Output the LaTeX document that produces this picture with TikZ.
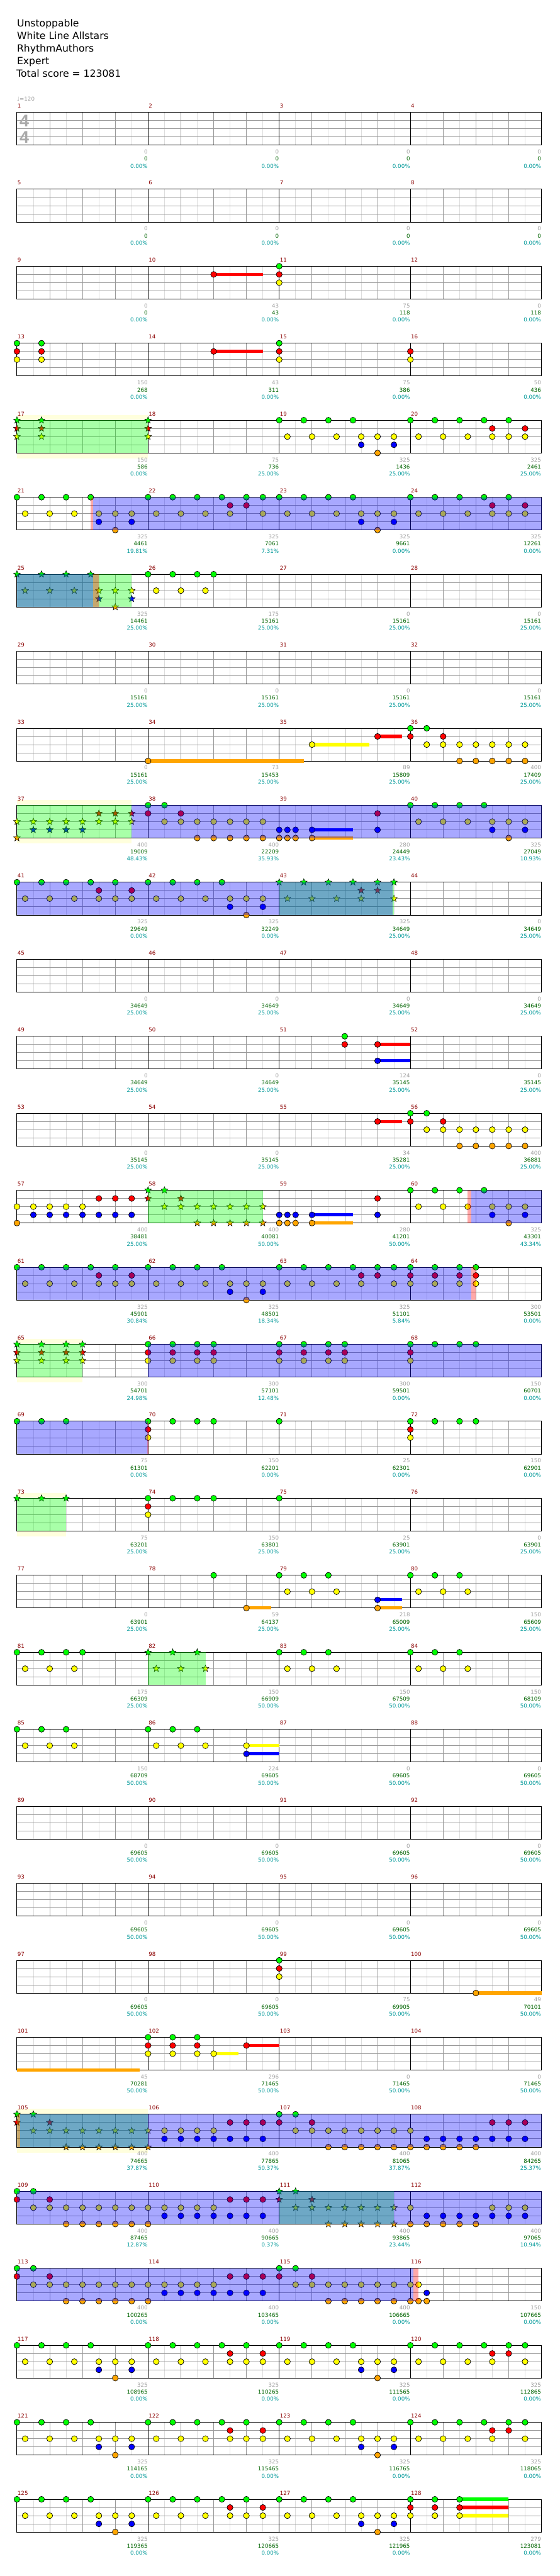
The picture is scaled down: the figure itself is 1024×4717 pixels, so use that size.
\documentclass[tikz,border=0pt]{standalone}
\usepackage{fontspec}
\setmainfont{DejaVu Sans}
\newfontfamily\tsfont{Liberation Sans}
\usetikzlibrary{shapes.geometric}
\definecolor{cG}{RGB}{0,255,0}
\definecolor{cR}{RGB}{255,0,0}
\definecolor{cY}{RGB}{255,255,0}
\definecolor{cB}{RGB}{0,0,255}
\definecolor{cO}{RGB}{255,165,0}
\definecolor{lgr}{RGB}{221,221,221}
\definecolor{dgr}{RGB}{153,153,153}
\definecolor{mnum}{RGB}{139,0,0}
\definecolor{sgray}{RGB}{160,160,160}
\definecolor{sgreen}{RGB}{0,100,0}
\definecolor{steal}{RGB}{0,153,153}
\definecolor{yband}{RGB}{255,255,221}
\definecolor{tsig}{RGB}{170,170,170}
\newcommand\smallf{\fontsize{10}{12}\selectfont}
\newcommand\titlef{\fontsize{18}{22}\selectfont}
\def\LG{0}\def\LR{1}\def\LY{2}\def\LB{3}\def\LO{4}
\newcommand\setxy[3]{\pgfmathsetmacro\nx{31+240*mod(#1-1,4)+15*(#2)}\pgfmathsetmacro\ny{205.5+141*floor((#1-1)/4)+15*(#3)}}
\newcommand\NT[3]{\setxy{#1}{#2}{\csname L#3\endcsname}\filldraw[notec,fill=c#3] (\nx,\ny) circle (5.4pt);}
\newcommand\ST[3]{\setxy{#1}{#2}{\csname L#3\endcsname}\node[starn,fill=c#3] at (\nx,\ny) {};}
\newcommand\SU[4]{\setxy{#1}{#2}{\csname L#3\endcsname}\pgfmathsetmacro\ex{\nx+15*(#4)}\fill[c#3] (\nx,\ny-3) rectangle (\ex,\ny+3);}
\newcommand\NL[4]{\foreach \pp in {#4} {#1{#2}{\pp}{#3}}}
\newcommand\GRY[3]{\NL#1{#2}{G}{#3}\NL#1{#2}{R}{#3}\NL#1{#2}{Y}{#3}}
\newcommand\PA[2]{\NL#1{#2}{G}{0,3,6,9}\NL#1{#2}{Y}{1,4,7,10,12,14}\NL#1{#2}{B}{10,14}\NL#1{#2}{O}{12}}
\newcommand\PB[2]{\NL#1{#2}{G}{0,3,6,9,12}\NL#1{#2}{R}{10,14}\NL#1{#2}{Y}{1,4,7,10,12,14}}
\newcommand\PC[2]{\NL#1{#2}{G}{0,3,6,9,12,14}\NL#1{#2}{R}{10,12}\NL#1{#2}{Y}{1,4,7,10,14}}
\newcommand\PD[2]{\NL#1{#2}{G}{0,2}\NL#1{#2}{R}{0,4}\NL#1{#2}{Y}{2,4,6,8,10,12,14}\NL#1{#2}{O}{6,8,10,12,14}}
\newcommand\PE[2]{\NL#1{#2}{Y}{0,2,4,6,8}\NL#1{#2}{B}{2,4,6,8,10,12,14}\NL#1{#2}{R}{10,12,14}\NL#1{#2}{O}{0}}
\newcommand\PH[2]{\NL#1{#2}{B}{0,1,2,4,12}\NL#1{#2}{O}{0,1,2,4}\NL#1{#2}{R}{12}}
\newcommand\PJ[2]{\NL#1{#2}{G}{0,3,6}\NL#1{#2}{Y}{1,4,7}}
\newcommand\OV[4]{\pgfmathsetmacro\TT{205.5+141*(#2-1)}\fill[#1] (#3,\TT) rectangle (#4,\TT+60);}
\newcommand\YB[3]{\pgfmathsetmacro\TT{205.5+141*(#1-1)}\fill[yband] (#2,\TT-10) rectangle (#3,\TT+70);}
\def\scorelist{1/0/0/0.00,2/0/0/0.00,3/0/0/0.00,4/0/0/0.00,5/0/0/0.00,6/0/0/0.00,7/0/0/0.00,8/0/0/0.00,
9/0/0/0.00,10/43/43/0.00,11/75/118/0.00,12/0/118/0.00,
13/150/268/0.00,14/43/311/0.00,15/75/386/0.00,16/50/436/0.00,
17/150/586/0.00,18/75/736/25.00,19/325/1436/25.00,20/325/2461/25.00,
21/325/4461/19.81,22/325/7061/7.31,23/325/9661/0.00,24/325/12261/0.00,
25/325/14461/25.00,26/175/15161/25.00,27/0/15161/25.00,28/0/15161/25.00,
29/0/15161/25.00,30/0/15161/25.00,31/0/15161/25.00,32/0/15161/25.00,
33/0/15161/25.00,34/73/15453/25.00,35/89/15809/25.00,36/400/17409/25.00,
37/400/19009/48.43,38/400/22209/35.93,39/280/24449/23.43,40/325/27049/10.93,
41/325/29649/0.00,42/325/32249/0.00,43/325/34649/25.00,44/0/34649/25.00,
45/0/34649/25.00,46/0/34649/25.00,47/0/34649/25.00,48/0/34649/25.00,
49/0/34649/25.00,50/0/34649/25.00,51/124/35145/25.00,52/0/35145/25.00,
53/0/35145/25.00,54/0/35145/25.00,55/34/35281/25.00,56/400/36881/25.00,
57/400/38481/25.00,58/400/40081/50.00,59/280/41201/50.00,60/325/43301/43.34,
61/325/45901/30.84,62/325/48501/18.34,63/325/51101/5.84,64/300/53501/0.00,
65/300/54701/24.98,66/300/57101/12.48,67/300/59501/0.00,68/150/60701/0.00,
69/75/61301/0.00,70/150/62201/0.00,71/25/62301/0.00,72/150/62901/0.00,
73/75/63201/25.00,74/150/63801/25.00,75/25/63901/25.00,76/0/63901/25.00,
77/0/63901/25.00,78/59/64137/25.00,79/218/65009/25.00,80/150/65609/25.00,
81/175/66309/25.00,82/150/66909/50.00,83/150/67509/50.00,84/150/68109/50.00,
85/150/68709/50.00,86/224/69605/50.00,87/0/69605/50.00,88/0/69605/50.00,
89/0/69605/50.00,90/0/69605/50.00,91/0/69605/50.00,92/0/69605/50.00,
93/0/69605/50.00,94/0/69605/50.00,95/0/69605/50.00,96/0/69605/50.00,
97/0/69605/50.00,98/0/69605/50.00,99/75/69905/50.00,100/49/70101/50.00,
101/45/70281/50.00,102/296/71465/50.00,103/0/71465/50.00,104/0/71465/50.00,
105/400/74665/37.87,106/400/77865/50.37,107/400/81065/37.87,108/400/84265/25.37,
109/400/87465/12.87,110/400/90665/0.37,111/400/93865/23.44,112/400/97065/10.94,
113/400/100265/0.00,114/400/103465/0.00,115/400/106665/0.00,116/150/107665/0.00,
117/325/108965/0.00,118/325/110265/0.00,119/325/111565/0.00,120/325/112865/0.00,
121/325/114165/0.00,122/325/115465/0.00,123/325/116765/0.00,124/325/118065/0.00,
125/325/119365/0.00,126/325/120665/0.00,127/325/121965/0.00,128/279/123081/0.00}
\begin{document}
\begin{tikzpicture}[x=1pt,y=-1pt,
  notec/.style={draw=black,line width=0.8pt},
  starn/.style={star,star points=5,star point ratio=2.3,minimum size=13pt,inner sep=0pt,draw=black,line width=0.6pt},
  greenov/.style={fill={rgb,255:red,0;green,255;blue,0},fill opacity=0.34},
  blueov/.style={fill={rgb,255:red,0;green,0;blue,255},fill opacity=0.34},
  pinkov/.style={fill={rgb,255:red,255;green,0;blue,0},fill opacity=0.34},
  lbl/.style={inner sep=0pt,font=\smallf}]
\useasboundingbox[fill=white] (0,0) rectangle (1024,4717);
% title
\node[anchor=base west,inner sep=0pt,font=\titlef] (t1) at (31,48.5) {Unstoppable};
\node[anchor=base west,inner sep=0pt,font=\titlef] (t2) at (31,71.6) {White Line Allstars};
\node[anchor=base west,inner sep=0pt,font=\titlef] (t3) at (31,94.7) {RhythmAuthors};
\node[anchor=base west,inner sep=0pt,font=\titlef] (t4) at (31,117.8) {Expert};
\node[anchor=base west,inner sep=0pt,font=\titlef] (t5) at (30,141) {Total score = 123081};
\node[anchor=base west,lbl,text=sgray] (tempo) at (31,185) {♩=120};
% yellow bands
\YB{5}{31}{271}\YB{10}{31}{241}\YB{17}{31}{151}\YB{19}{31}{121}\YB{27}{31}{271}
% staffs
\foreach \r in {1,...,32} {
  \pgfmathsetmacro\T{205.5+141*(\r-1)}
  \fill[white] (31,\T) rectangle (991,\T+60);
  \foreach \i in {0,...,15} {\draw[lgr,line width=1pt] ({61+60*\i},\T) -- ({61+60*\i},\T+60);}
  \foreach \k in {1,2,3,5,6,7,9,10,11,13,14,15} {\draw[dgr,line width=1pt] ({31+60*\k},\T) -- ({31+60*\k},\T+60);}
  \foreach \l in {15,30,45} {\draw[dgr,line width=1pt] (31,\T+\l) -- (991,\T+\l);}
  \foreach \k in {4,8,12} {\draw[black,line width=1pt] ({31+60*\k},\T) -- ({31+60*\k},\T+60);}
  \draw[black,line width=1pt] (31,\T) rectangle (991,\T+60);
  \foreach \c in {0,...,3} {
    \pgfmathtruncatemacro\mn{4*(\r-1)+\c+1}
    \node[anchor=base west,lbl,text=mnum] at ({32+240*\c},\T-8) {\mn};
  }
}
% time signature
\node[anchor=base,inner sep=0pt,font={\tsfont\bfseries\fontsize{31}{31}\selectfont},text=tsig] (ts1) at (44.5,232.5) {4};
\node[anchor=base,inner sep=0pt,font={\tsfont\bfseries\fontsize{31}{31}\selectfont},text=tsig] (ts2) at (44.5,262) {4};
% scores
\foreach \m/\a/\b/\c in \scorelist {
  \pgfmathsetmacro\xe{30.5+240*(mod(\m-1,4)+1)}
  \pgfmathsetmacro\T{205.5+141*floor((\m-1)/4)}
  \node[anchor=base east,lbl,text=sgray] at (\xe,\T+76) {\a};
  \node[anchor=base east,lbl,text=sgreen] at (\xe,\T+89) {\b};
  \node[anchor=base east,lbl,text=steal] at (\xe,\T+102) {\c\%};
}
% sustains
\SU{10}{8}{R}{6}\SU{14}{8}{R}{6}\SU{34}{0}{O}{19}\SU{35}{4}{Y}{7}\SU{35}{12}{R}{3}
\SU{39}{4}{B}{5}\SU{39}{4}{O}{5}\SU{51}{12}{R}{4}\SU{51}{12}{B}{4}\SU{55}{12}{R}{3}
\SU{59}{4}{B}{5}\SU{59}{4}{O}{5}\SU{78}{12}{O}{3}\SU{79}{12}{B}{3}\SU{79}{12}{O}{3}
\SU{86}{12}{Y}{4}\SU{86}{12}{B}{4}\SU{100}{8}{O}{8}\SU{101}{0}{O}{15}
\SU{102}{8}{Y}{3}\SU{102}{12}{R}{4}\SU{128}{6}{G}{6}\SU{128}{6}{R}{6}\SU{128}{6}{Y}{6}
% notes
\NT{10}{8}{R}
\GRY\NT{11}{0}
\GRY\NT{13}{0,3}
\NT{14}{8}{R}
\GRY\NT{15}{0}
\NT{16}{0}{R}\NT{16}{0}{Y}
\GRY\ST{17}{0,3}
\GRY\ST{18}{0}
\PA\NT{19}\PB\NT{20}
\PA\NT{21}\PC\NT{22}\PA\NT{23}\PB\NT{24}
\PA\ST{25}\NL\NT{26}{G}{0,3,6,8}\NL\NT{26}{Y}{1,4,7}
\NT{34}{0}{O}
\NT{35}{4}{Y}\NT{35}{12}{R}
\PD\NT{36}
\NL\ST{37}{Y}{0,2,4,6,8,10,12,14}\NL\ST{37}{R}{10,12,14}\NL\ST{37}{B}{2,4,6,8}\NL\ST{37}{O}{0}
\PD\NT{38}
\PH\NT{39}
\PA\NT{40}
\PB\NT{41}\PA\NT{42}\PC\ST{43}
\NT{51}{8}{G}\NT{51}{8}{R}\NT{51}{12}{R}\NT{51}{12}{B}
\NT{55}{12}{R}
\PD\NT{56}
\PE\NT{57}\PD\ST{58}\PH\NT{59}\PA\NT{60}
\PB\NT{61}\PA\NT{62}\PC\NT{63}\GRY\NT{64}{0,3,6,8}
\GRY\ST{65}{0,3,6,8}\GRY\NT{66}{0,3,6,8}\GRY\NT{67}{0,3,6,8}\NL\NT{68}{G}{0,3,6,8}\NT{68}{0}{R}\NT{68}{0}{Y}
\NL\NT{69}{G}{0,3,6}\NL\NT{70}{G}{0,3,6,8}\NT{70}{0}{R}\NT{70}{0}{Y}\NT{71}{0}{G}\NL\NT{72}{G}{0,3,6,8}\NT{72}{0}{R}\NT{72}{0}{Y}
\NL\ST{73}{G}{0,3,6}\NL\NT{74}{G}{0,3,6,8}\NT{74}{0}{R}\NT{74}{0}{Y}\NT{75}{0}{G}
\NT{78}{8}{G}\NT{78}{12}{O}\PJ\NT{79}\NT{79}{12}{B}\NT{79}{12}{O}\PJ\NT{80}
\NL\NT{81}{G}{0,3,6,8}\NL\NT{81}{Y}{1,4,7}\PJ\ST{82}\PJ\NT{83}\PJ\NT{84}
\PJ\NT{85}\PJ\NT{86}\NT{86}{12}{Y}\NT{86}{12}{B}
\GRY\NT{99}{0}
\NT{100}{8}{O}
\GRY\NT{102}{0,3,6}\NT{102}{8}{Y}\NT{102}{12}{R}
\PD\ST{105}
\NL\NT{106}{Y}{2,4,6,8}\NL\NT{106}{B}{2,4,6,8,10,12,14}\NL\NT{106}{R}{10,12,14}\ST{106}{0}{Y}\ST{106}{0}{O}
\PD\NT{107}
\NT{108}{0}{Y}\NL\NT{108}{O}{0,2,4,6,8}\NL\NT{108}{B}{2,4,6,8,10,12,14}\NL\NT{108}{R}{10,12,14}
\PD\NT{109}\PE\NT{110}\PD\ST{111}
\NT{112}{0}{Y}\NL\NT{112}{O}{0,2,4,6,8}\NL\NT{112}{B}{2,4,6,8,10,12,14}\NL\NT{112}{Y}{10,12,14}
\PD\NT{113}\PE\NT{114}\PD\NT{115}
\NL\NT{116}{Y}{0,1}\NL\NT{116}{O}{0,1,2}\NT{116}{2}{B}
\PA\NT{117}\PB\NT{118}\PA\NT{119}\PC\NT{120}
\PA\NT{121}\PB\NT{122}\PA\NT{123}\PC\NT{124}
\PA\NT{125}\PB\NT{126}\PA\NT{127}\GRY\NT{128}{0,3,6}
% overlays
\OV{greenov}{5}{31}{271}\OV{greenov}{7}{31}{241}\OV{greenov}{10}{31}{241}
\OV{greenov}{11}{511}{721}\OV{greenov}{15}{271}{481}\OV{greenov}{17}{31}{151}
\OV{greenov}{19}{31}{121}\OV{greenov}{21}{271}{376}\OV{greenov}{27}{31}{271}
\OV{greenov}{28}{511}{721}
\OV{blueov}{6}{171}{991}\OV{blueov}{7}{31}{171}\OV{blueov}{10}{241}{991}
\OV{blueov}{11}{31}{719}\OV{blueov}{15}{862}{991}\OV{blueov}{16}{31}{863}
\OV{blueov}{17}{271}{991}\OV{blueov}{18}{31}{271}\OV{blueov}{27}{37}{991}
\OV{blueov}{28}{31}{991}\OV{blueov}{29}{31}{757}
\OV{pinkov}{6}{166}{171}\OV{pinkov}{7}{171}{181}\OV{pinkov}{15}{856}{862}
\OV{pinkov}{16}{863}{871}\OV{pinkov}{18}{269}{272}\OV{pinkov}{27}{31}{37}
\OV{pinkov}{29}{757}{766}
\end{tikzpicture}
\end{document}
